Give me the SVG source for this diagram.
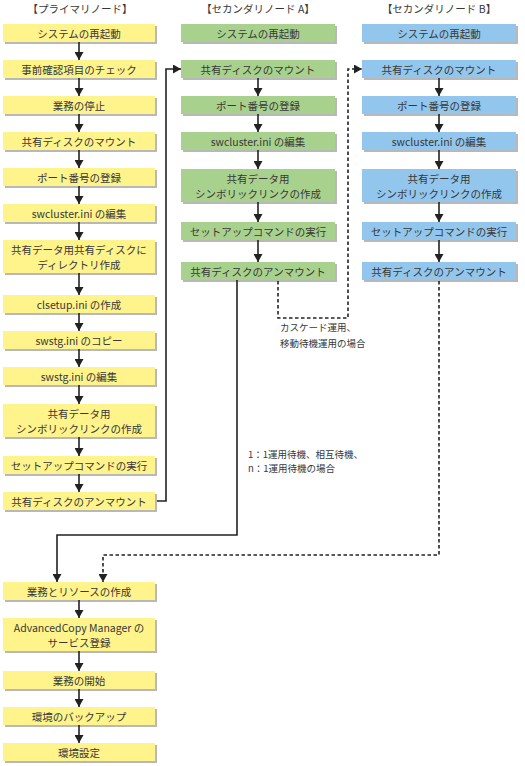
<svg xmlns="http://www.w3.org/2000/svg" width="525" height="766" viewBox="0 0 525 766">
<style>
text{font-family:"Noto Sans CJK JP","Noto Sans",sans-serif;font-size:10.5px;font-weight:400;fill:#383838;text-anchor:middle;dominant-baseline:central}
.lbl{font-size:9.5px;text-anchor:start}
.hd{font-size:10.5px}
.y{fill:#fff38c}
.g{fill:#a9d18e}
.b{fill:#93c6ec}
.box{filter:url(#sh)}
.ln{fill:none;stroke:#222;stroke-width:1.6}
.ds{fill:none;stroke:#222;stroke-width:1.6;stroke-dasharray:3.5 2.5}
</style>
<defs>
<filter id="sh" x="-5%" y="-20%" width="115%" height="160%">
<feDropShadow dx="2" dy="2" stdDeviation="0.7" flood-color="#888" flood-opacity="0.6"/>
</filter>
<marker id="ah" markerWidth="10" markerHeight="9" refX="8" refY="4.5" orient="auto" markerUnits="userSpaceOnUse">
<path d="M0,0 L8,4.5 L0,9 Z" fill="#222"/>
</marker>
</defs>

<g id="headers">
<text class="hd" x="80" y="8">【プライマリノード】</text>
<text class="hd" x="258" y="8">【セカンダリノード A】</text>
<text class="hd" x="439" y="8">【セカンダリノード B】</text>
</g>

<!-- Primary node -->
<g id="p1"><rect class="box y" x="3" y="24" width="152" height="18"/><text x="79" y="33">システムの再起動</text></g>
<g id="p2"><rect class="box y" x="3" y="60" width="152" height="18"/><text x="79" y="69">事前確認項目のチェック</text></g>
<g id="p3"><rect class="box y" x="3" y="96" width="152" height="18"/><text x="79" y="105">業務の停止</text></g>
<g id="p4"><rect class="box y" x="3" y="132" width="152" height="18"/><text x="79" y="141">共有ディスクのマウント</text></g>
<g id="p5"><rect class="box y" x="3" y="168" width="152" height="18"/><text x="79" y="177">ポート番号の登録</text></g>
<g id="p6"><rect class="box y" x="3" y="204" width="152" height="18"/><text x="79" y="213">swcluster.ini の編集</text></g>
<g id="p7"><rect class="box y" x="3" y="240" width="152" height="33"/><text x="79" y="249">共有データ用共有ディスクに</text><text x="79" y="264">ディレクトリ作成</text></g>
<g id="p8"><rect class="box y" x="3" y="295" width="152" height="18"/><text x="79" y="304">clsetup.ini の作成</text></g>
<g id="p9"><rect class="box y" x="3" y="331" width="152" height="18"/><text x="79" y="340">swstg.ini のコピー</text></g>
<g id="p10"><rect class="box y" x="3" y="367" width="152" height="18"/><text x="79" y="376">swstg.ini の編集</text></g>
<g id="p11"><rect class="box y" x="3" y="404" width="152" height="33"/><text x="79" y="413">共有データ用</text><text x="79" y="428">シンボリックリンクの作成</text></g>
<g id="p12"><rect class="box y" x="3" y="456" width="152" height="18"/><text x="79" y="465">セットアップコマンドの実行</text></g>
<g id="p13"><rect class="box y" x="3" y="492" width="152" height="18"/><text x="79" y="501">共有ディスクのアンマウント</text></g>
<g id="p14"><rect class="box y" x="3" y="582" width="152" height="18"/><text x="79" y="591">業務とリソースの作成</text></g>
<g id="p15"><rect class="box y" x="3" y="618" width="152" height="33"/><text x="79" y="627">AdvancedCopy Manager の</text><text x="79" y="642">サービス登録</text></g>
<g id="p16"><rect class="box y" x="3" y="671" width="152" height="18"/><text x="79" y="680">業務の開始</text></g>
<g id="p17"><rect class="box y" x="3" y="707" width="152" height="18"/><text x="79" y="716">環境のバックアップ</text></g>
<g id="p18"><rect class="box y" x="3" y="743" width="152" height="18"/><text x="79" y="752">環境設定</text></g>

<!-- Secondary A -->
<g id="a1"><rect class="box g" x="181" y="24" width="154" height="18"/><text x="258" y="33">システムの再起動</text></g>
<g id="a2"><rect class="box g" x="181" y="60" width="154" height="18"/><text x="258" y="69">共有ディスクのマウント</text></g>
<g id="a3"><rect class="box g" x="181" y="96" width="154" height="18"/><text x="258" y="105">ポート番号の登録</text></g>
<g id="a4"><rect class="box g" x="181" y="132" width="154" height="18"/><text x="258" y="141">swcluster.ini の編集</text></g>
<g id="a5"><rect class="box g" x="181" y="169" width="154" height="33"/><text x="258" y="178">共有データ用</text><text x="258" y="193">シンボリックリンクの作成</text></g>
<g id="a6"><rect class="box g" x="181" y="222" width="154" height="18"/><text x="258" y="231">セットアップコマンドの実行</text></g>
<g id="a7"><rect class="box g" x="181" y="262" width="154" height="18"/><text x="258" y="271">共有ディスクのアンマウント</text></g>

<!-- Secondary B -->
<g id="b1"><rect class="box b" x="362" y="24" width="154" height="18"/><text x="439" y="33">システムの再起動</text></g>
<g id="b2"><rect class="box b" x="362" y="60" width="154" height="18"/><text x="439" y="69">共有ディスクのマウント</text></g>
<g id="b3"><rect class="box b" x="362" y="96" width="154" height="18"/><text x="439" y="105">ポート番号の登録</text></g>
<g id="b4"><rect class="box b" x="362" y="132" width="154" height="18"/><text x="439" y="141">swcluster.ini の編集</text></g>
<g id="b5"><rect class="box b" x="362" y="169" width="154" height="33"/><text x="439" y="178">共有データ用</text><text x="439" y="193">シンボリックリンクの作成</text></g>
<g id="b6"><rect class="box b" x="362" y="222" width="154" height="18"/><text x="439" y="231">セットアップコマンドの実行</text></g>
<g id="b7"><rect class="box b" x="362" y="262" width="154" height="18"/><text x="439" y="271">共有ディスクのアンマウント</text></g>

<g id="connectors">
<!-- primary vertical -->
<path class="ln" marker-end="url(#ah)" d="M79,42 V60"/>
<path class="ln" marker-end="url(#ah)" d="M79,78 V96"/>
<path class="ln" marker-end="url(#ah)" d="M79,114 V132"/>
<path class="ln" marker-end="url(#ah)" d="M79,150 V168"/>
<path class="ln" marker-end="url(#ah)" d="M79,186 V204"/>
<path class="ln" marker-end="url(#ah)" d="M79,222 V240"/>
<path class="ln" marker-end="url(#ah)" d="M79,273 V295"/>
<path class="ln" marker-end="url(#ah)" d="M79,313 V331"/>
<path class="ln" marker-end="url(#ah)" d="M79,349 V367"/>
<path class="ln" marker-end="url(#ah)" d="M79,385 V404"/>
<path class="ln" marker-end="url(#ah)" d="M79,437 V456"/>
<path class="ln" marker-end="url(#ah)" d="M79,474 V492"/>
<path class="ln" marker-end="url(#ah)" d="M79,600 V618"/>
<path class="ln" marker-end="url(#ah)" d="M79,651 V671"/>
<path class="ln" marker-end="url(#ah)" d="M79,689 V707"/>
<path class="ln" marker-end="url(#ah)" d="M79,725 V743"/>
<!-- A vertical -->
<path class="ln" marker-end="url(#ah)" d="M258,78 V96"/>
<path class="ln" marker-end="url(#ah)" d="M258,114 V132"/>
<path class="ln" marker-end="url(#ah)" d="M258,150 V169"/>
<path class="ln" marker-end="url(#ah)" d="M258,202 V222"/>
<path class="ln" marker-end="url(#ah)" d="M258,240 V262"/>
<!-- B vertical -->
<path class="ln" marker-end="url(#ah)" d="M439,78 V96"/>
<path class="ln" marker-end="url(#ah)" d="M439,114 V132"/>
<path class="ln" marker-end="url(#ah)" d="M439,150 V169"/>
<path class="ln" marker-end="url(#ah)" d="M439,202 V222"/>
<path class="ln" marker-end="url(#ah)" d="M439,240 V262"/>
<!-- cross links -->
<path class="ln" marker-end="url(#ah)" d="M157,501 H166 V69 H181"/>
<path class="ln" marker-end="url(#ah)" d="M237,280 V535 H57 V582"/>
<path class="ds" marker-end="url(#ah)" d="M278,281 V318 H348 V69 H362"/>
<path class="ds" marker-end="url(#ah)" d="M439,281 V555 H103 V582"/>
</g>

<g id="labels">
<text class="lbl" x="280" y="327">カスケード運用、</text>
<text class="lbl" x="280" y="343">移動待機運用の場合</text>
<text class="lbl" x="248" y="454">1：1運用待機、相互待機、</text>
<text class="lbl" x="248" y="468">n：1運用待機の場合</text>
</g>
</svg>
